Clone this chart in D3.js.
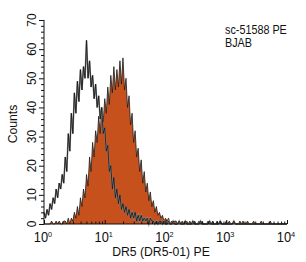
<!DOCTYPE html>
<html><head><meta charset="utf-8">
<script src="https://cdn.jsdelivr.net/npm/d3@7"></script>
<style>body{margin:0;background:#fff}svg{display:block}text{font-family:"Liberation Sans",Arial,sans-serif;fill:#111}</style>
</head><body><svg id="c" width="306" height="262"></svg>
<script>
// log10 channel positions: start 0, step 0.025
const binStart = 0, binStep = 0.025;
const controlCounts = [4,2,5,3,7,5,9,7,12,9,14,12,17,14,23,18,31,25,38,31,45,38,49,42,53,46,54,50,63,50,56,47,51,43,48,40,44,36,40,31,33,25,27,18,20,12,16,9,12,7,10,5,7,4,6,3,5,2,4,2,4,1,3,1,3,1,2,1,2,0,2,1,1,0,1,0,1,1,0,1,0,0,1,0,0,1,0,0,0,1,0,0,0,1,0,0,0,0,1,0,0,0,0,1,0,0,0,0,0,1,0,0,0,0,0,0,1,0,0,0,0,0,0,0,0,1,0,0,0,0,0,0,0,0,0,0,0,0,0,0,0,0,0,0,0,0,0,0,0,0,0,0,0,0,0,0,0,0,0,0,0];
const sampleCounts = [0,0,0,0,0,1,0,0,1,0,1,0,0,1,1,0,2,0,2,1,4,2,6,3,9,6,12,9,17,13,23,18,28,23,32,28,37,31,40,35,43,38,47,41,51,45,54,46,53,47,56,48,57,46,50,40,44,34,38,28,32,23,26,18,22,14,18,11,14,8,11,6,8,4,6,3,4,2,3,1,2,1,2,0,1,0,1,1,0,1,0,1,0,0,1,0,1,0,0,1,0,0,1,0,1,0,0,0,1,0,0,1,0,0,1,0,1,0,0,0,1,0,1,0,0,1,0,0,0,1,0,1,0,0,1,0,0,0,1,0,0,0,0,1,0,0,0,0,0,1,0,0,0,0,0,0,0,0,0,0,0];
const yTicks = [0,10,20,30,40,50,60,70];
const xDecades = [0,1,2,3,4];
const xTitle = "DR5 (DR5-01) PE";
const yTitle = "Counts";
const noteLines = ["sc-51588 PE","BJAB"];

const svg = d3.select("#c");
const x = d3.scaleLinear().domain([0,4]).range([44,287]);
const y = d3.scaleLinear().domain([0,70]).range([224,20]);

const toPts = arr => arr.map((v,i)=>[binStart+i*binStep, v]);
const area = d3.area().x(d=>x(d[0])).y0(y(0)).y1(d=>y(d[1]));
const line = d3.line().x(d=>x(d[0])).y(d=>y(d[1]));

svg.append("path").attr("d", area(toPts(sampleCounts))).attr("fill","#c6511d");
svg.append("path").attr("d", line(toPts(sampleCounts))).attr("fill","none").attr("stroke","#1a1a1a").attr("stroke-width",0.8);
svg.append("path").attr("d", line(toPts(controlCounts))).attr("fill","none").attr("stroke","#888").attr("stroke-width",1.6);
svg.append("path").attr("d", line(toPts(controlCounts))).attr("fill","none").attr("stroke","#111").attr("stroke-width",0.8);

// y axis
const ya = d3.axisLeft(y).tickValues(d3.range(0,71,2)).tickSize(3).tickFormat("");
const yg = svg.append("g").attr("transform","translate(44,0)").call(ya);
yg.selectAll(".tick line").attr("x2", d=>d%10===0?-5:-3);
yg.select(".domain").attr("d", `M0,${y(70)}V${y(0)}`);
yg.selectAll("line,path").attr("stroke","#111");
svg.selectAll(".ylab").data(yTicks).enter().append("text")
  .attr("transform", d=>`translate(36,${y(d)}) rotate(-90) scale(0.92,1)`)
  .attr("text-anchor","middle").attr("font-size",13).text(d=>d);

// x axis
const minor = [];
xDecades.slice(0,-1).forEach(dc=>{for(let k=1;k<=10;k++) minor.push(dc+Math.log10(k));});
const xa = d3.axisTop(x).tickValues(Array.from(new Set(minor.map(v=>+v.toFixed(6))))).tickSize(3).tickFormat("");
const xg = svg.append("g").attr("transform","translate(0,224)").call(xa);
xg.selectAll(".tick line").attr("y2", d=>Math.abs(d-Math.round(d))<1e-6?-4:-2.5);
xg.select(".domain").attr("d", `M${x(0)},0H${x(4)}`);
xg.selectAll("line,path").attr("stroke","#111");
const xl = svg.selectAll(".xlab").data(xDecades).enter().append("text")
  .attr("transform", d=>`translate(${x(d)-1},242) scale(0.92,1)`).attr("text-anchor","middle").attr("font-size",14);
xl.append("tspan").text("10");
xl.append("tspan").attr("dy",-5).attr("font-size",8).text(d=>d);

svg.append("text").attr("transform","translate(161,256) scale(0.94,1)").attr("text-anchor","middle").attr("font-size",13).text(xTitle);
svg.append("text").attr("transform","translate(17,124) rotate(-90) scale(0.94,1)").attr("text-anchor","middle").attr("font-size",13).text(yTitle);
svg.selectAll(".note").data(noteLines).enter().append("text")
  .attr("transform",(d,i)=>`translate(225,${34+i*12.5}) scale(0.9,1)`).attr("font-size",12).text(d=>d);
</script></body></html>
